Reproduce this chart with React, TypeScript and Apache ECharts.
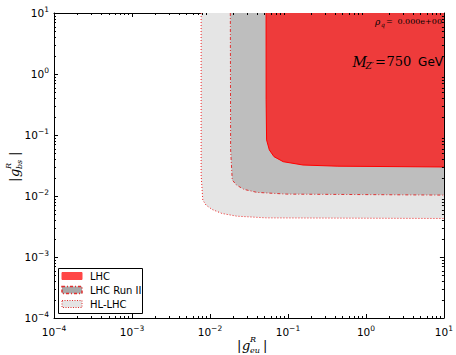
import React, { useEffect, useRef } from 'react';
import * as echarts from 'echarts';

// Boundary points [g_eu, g_bs] of each excluded region (region lies above/right)
const lhcBoundary: number[][] = [
  [0.0524, 10], [0.0525, 0.378], [0.0532, 0.083], [0.0577, 0.0569], [0.0662, 0.0442],
  [0.0869, 0.0365], [0.156, 0.0322], [0.436, 0.0308], [10, 0.0299],
];
const runIIBoundary: number[][] = [
  [0.01824, 10], [0.0184, 0.0569], [0.0193, 0.0183], [0.0219, 0.0151], [0.0272, 0.01285],
  [0.0402, 0.01146], [0.0968, 0.01074], [10, 0.01035],
];
const hlBoundary: number[][] = [
  [0.0077, 10], [0.0077, 0.0221], [0.00809, 0.00857], [0.00891, 0.00708], [0.01064, 0.00602],
  [0.01426, 0.00517], [0.0221, 0.00467], [0.0528, 0.00438], [10, 0.00428],
];
const seriesNames = ['LHC', 'LHC Run II', 'HL-LHC'];
const majorTicks = [1e-4, 1e-3, 1e-2, 1e-1, 1, 10];
const minorMultipliers = [2, 3, 4, 5, 6, 7, 8, 9];
const rhoValue = '0.000e+00';
const massValue = '750';

const minorTicks = majorTicks.slice(0, -1).flatMap((d) => minorMultipliers.map((m) => m * d));

const SERIF = 'DejaVu Serif';
const SANS = 'DejaVu Sans';

function expLabel(v: number) {
  const e = Math.round(Math.log10(v));
  return '{b|10}{s|' + (e < 0 ? '\u2212' + -e : String(e)) + '}';
}

const labelRich = {
  b: { fontSize: 10.5, fontFamily: SANS, color: '#000' },
  s: { fontSize: 7.5, fontFamily: SANS, color: '#000', padding: [0, 0, 8, 0] },
};

function txt(text: string, x: number, y: number, size: number, family: string, italic = false, extra: any = {}) {
  return {
    type: 'text',
    x,
    y,
    z: 20,
    style: {
      text,
      fontFamily: family,
      fontStyle: italic ? 'italic' : 'normal',
      fontSize: size,
      fill: '#000',
      verticalAlign: 'middle',
      ...extra,
    },
  };
}

export default function App() {
  const ref = useRef<HTMLDivElement>(null);
  useEffect(() => {
    if (!ref.current) return;
    const chart = echarts.init(ref.current, undefined, { renderer: 'svg' });
    const axisCommon = {
      type: 'log' as const,
      logBase: 10,
      min: 1e-4,
      max: 10,
      splitLine: { show: false },
      axisLine: { show: true, lineStyle: { color: '#000', width: 1 } },
      axisTick: { show: true, inside: true, length: 4, lineStyle: { color: '#000', width: 1 } },
    };
    const tickSeries = (dir: 'x' | 'y') => ({
      type: 'custom',
      z: 10,
      silent: true,
      clip: false,
      data: minorTicks.map((v) => (dir === 'x' ? [v, 1e-4] : [1e-4, v])),
      renderItem: (params: any, api: any) => {
        const v = dir === 'x' ? api.value(0) : api.value(1);
        if (dir === 'x') {
          const b = api.coord([v, 1e-4]);
          const t = api.coord([v, 10]);
          const x = Math.round(b[0]) + 0.5;
          return {
            type: 'group',
            children: [
              { type: 'line', shape: { x1: x, y1: b[1], x2: x, y2: b[1] - 2 }, style: { stroke: '#000', lineWidth: 1 } },
              { type: 'line', shape: { x1: x, y1: t[1], x2: x, y2: t[1] + 2 }, style: { stroke: '#000', lineWidth: 1 } },
            ],
          };
        }
        const l = api.coord([1e-4, v]);
        const r = api.coord([10, v]);
        const y = Math.round(l[1]) + 0.5;
        return {
          type: 'group',
          children: [
            { type: 'line', shape: { x1: l[0], y1: y, x2: l[0] + 2, y2: y }, style: { stroke: '#000', lineWidth: 1 } },
            { type: 'line', shape: { x1: r[0], y1: y, x2: r[0] - 2, y2: y }, style: { stroke: '#000', lineWidth: 1 } },
          ],
        };
      },
    });
    const region = (name: string, data: number[][], fill: string, line: any, z: number) => ({
      name,
      type: 'line',
      data,
      z,
      symbol: 'none',
      smooth: false,
      silent: true,
      clip: true,
      lineStyle: line,
      areaStyle: { color: fill, opacity: 1, origin: 'end' },
    });
    const legendY = [276, 290, 304];
    chart.setOption({
      animation: false,
      grid: { left: 54, right: 9, top: 13, bottom: 37, containLabel: false },
      xAxis: [
        {
          ...axisCommon,
          position: 'bottom',
          axisLabel: { show: true, margin: 6, formatter: expLabel, rich: labelRich },
        },
        { ...axisCommon, position: 'top', axisLabel: { show: false } },
      ],
      yAxis: [
        {
          ...axisCommon,
          position: 'left',
          axisLabel: { show: true, margin: 5, formatter: expLabel, rich: labelRich },
        },
        { ...axisCommon, position: 'right', axisLabel: { show: false } },
      ],
      series: [
        region(seriesNames[2], hlBoundary, '#e5e5e5', { color: '#ee2222', width: 1, type: [1, 2] }, 1),
        region(seriesNames[1], runIIBoundary, '#bebebe', { color: '#dd3333', width: 1, type: [3, 2, 1, 2] }, 2),
        region(seriesNames[0], lhcBoundary, '#ee3b3b', { color: '#ff0000', width: 1 }, 3),
        tickSeries('x'),
        tickSeries('y'),
      ],
      graphic: [
        // annotations
        txt('\u03c1', 375, 21.5, 9, SERIF, true),
        txt('q', 381, 24.5, 6, SERIF, true),
        txt('=', 386, 21.5, 8, SERIF),
        txt(rhoValue, 442, 21.5, 8, SERIF, false, { align: 'right' }),
        txt('M', 352.5, 61.5, 14, SERIF, true),
        txt('Z\u2032', 365.5, 66, 9, SERIF, true),
        txt('=', 375, 61.5, 13, SERIF),
        txt(massValue, 386.5, 61.5, 13, SERIF),
        txt('GeV', 443, 61.5, 12, SANS, false, { align: 'right' }),
        // x axis title
        {
          type: 'group',
          x: 237,
          y: 339,
          children: [
            { type: 'text', x: 0, y: 0, style: { text: '|', fontFamily: SERIF, fontSize: 13, fill: '#000' } },
            { type: 'text', x: 5, y: 0, style: { text: 'g', fontFamily: SERIF, fontStyle: 'italic', fontSize: 13, fill: '#000' } },
            { type: 'text', x: 13, y: -4, style: { text: 'R', fontFamily: SERIF, fontStyle: 'italic', fontSize: 8, fill: '#000' } },
            { type: 'text', x: 13, y: 7, style: { text: 'eu', fontFamily: SERIF, fontStyle: 'italic', fontSize: 8, fill: '#000' } },
            { type: 'text', x: 26, y: 0, style: { text: '|', fontFamily: SERIF, fontSize: 13, fill: '#000' } },
          ],
        },
        // y axis title
        {
          type: 'group',
          x: 8,
          y: 182,
          rotation: Math.PI / 2,
          children: [
            { type: 'text', x: 0, y: 0, style: { text: '|', fontFamily: SERIF, fontSize: 13, fill: '#000' } },
            { type: 'text', x: 5, y: 0, style: { text: 'g', fontFamily: SERIF, fontStyle: 'italic', fontSize: 13, fill: '#000' } },
            { type: 'text', x: 13, y: -4, style: { text: 'R', fontFamily: SERIF, fontStyle: 'italic', fontSize: 8, fill: '#000' } },
            { type: 'text', x: 13, y: 7, style: { text: 'bs', fontFamily: SERIF, fontStyle: 'italic', fontSize: 8, fill: '#000' } },
            { type: 'text', x: 26, y: 0, style: { text: '|', fontFamily: SERIF, fontSize: 13, fill: '#000' } },
          ],
        },
        // legend
        {
          type: 'rect',
          z: 30,
          shape: { x: 58.5, y: 268.5, width: 84, height: 45 },
          style: { fill: '#fff', stroke: '#000', lineWidth: 1 },
        },
        {
          type: 'rect',
          z: 31,
          shape: { x: 62, y: legendY[0] - 3.5, width: 20, height: 7 },
          style: { fill: '#ff4646', stroke: '#ff4646', lineWidth: 1 },
        },
        {
          type: 'rect',
          z: 31,
          shape: { x: 62, y: legendY[1] - 3.5, width: 20, height: 7 },
          style: { fill: '#a9a9a9', stroke: '#e03030', lineWidth: 1.5, lineDash: [3, 2, 1, 2] },
        },
        {
          type: 'rect',
          z: 31,
          shape: { x: 62, y: legendY[2] - 3.5, width: 20, height: 7 },
          style: { fill: '#e4e4e4', stroke: '#e03030', lineWidth: 1, lineDash: [1, 1.5] },
        },
        ...seriesNames.map((n, i) => ({
          type: 'text',
          z: 31,
          x: 90,
          y: legendY[i],
          style: { text: n, fontFamily: SANS, fontSize: 10, fill: '#000', verticalAlign: 'middle' },
        })),
      ],
    });
    return () => chart.dispose();
  }, []);
  return <div ref={ref} style={{ width: 456, height: 355, position: 'absolute', left: 0, top: 0 }} />;
}
